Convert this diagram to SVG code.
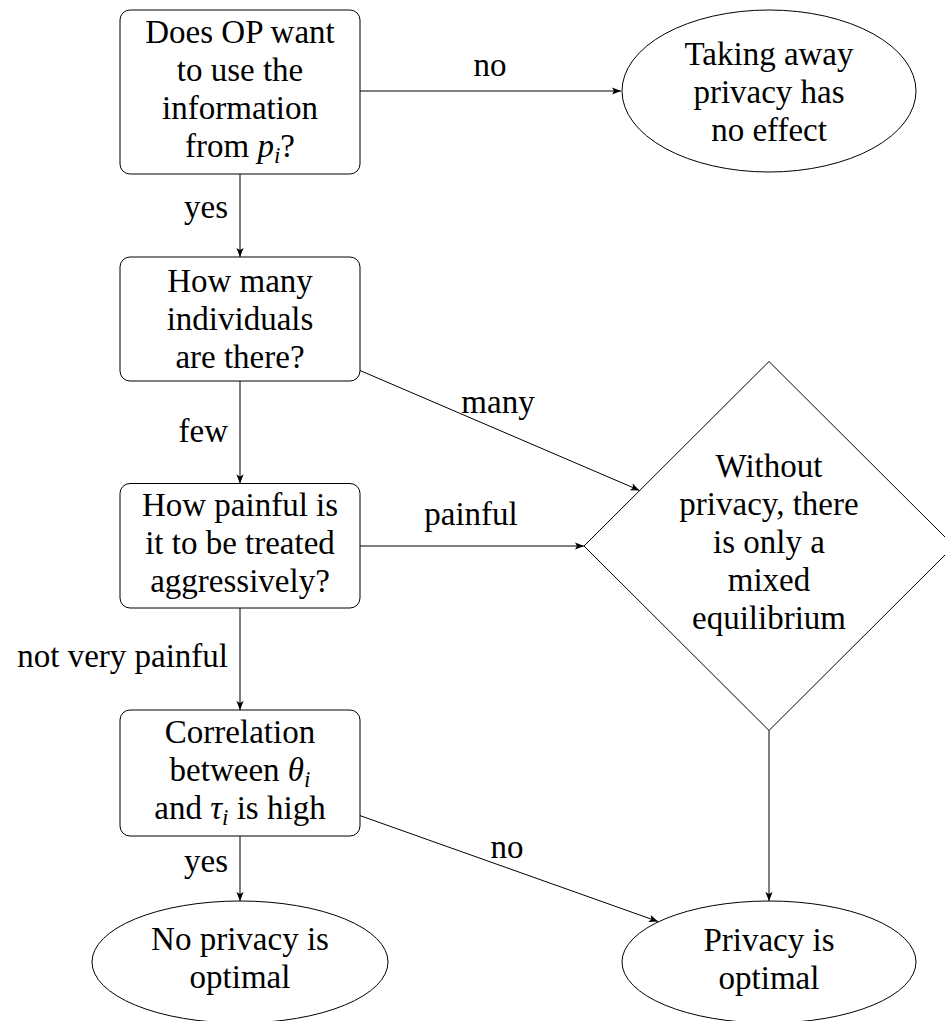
<svg xmlns="http://www.w3.org/2000/svg" width="945" height="1021" viewBox="0 0 945 1021">
<defs>
<marker id="arr" markerUnits="userSpaceOnUse" markerWidth="12" markerHeight="10" viewBox="-10 -5 12 10" refX="0" refY="0" orient="auto">
<path d="M-9,-3.6 L0,0 L-9,3.6 L-7,0 z" fill="#000"/>
</marker>
</defs>
<rect width="945" height="1021" fill="#fff"/>
<g id="connectors" stroke="#000" stroke-width="1" marker-end="url(#arr)">
<line x1="360" y1="91" x2="621" y2="91"/>
<line x1="240" y1="174" x2="240" y2="257"/>
<line x1="360" y1="370.5" x2="639.5" y2="490.4"/>
<line x1="240" y1="381" x2="240" y2="483.5"/>
<line x1="360" y1="546" x2="584" y2="546"/>
<line x1="240" y1="608" x2="240" y2="710"/>
<line x1="360" y1="815.6" x2="658" y2="921.5"/>
<line x1="240" y1="836" x2="240" y2="901"/>
<line x1="769" y1="730.5" x2="769" y2="901"/>
</g>
<g id="labels" fill="#000">
<text font-family="Liberation Serif" font-size="33" text-anchor="middle" x="490" y="76">no</text>
<text font-family="Liberation Serif" font-size="33" text-anchor="end" x="228" y="218">yes</text>
<text font-family="Liberation Serif" font-size="33" text-anchor="middle" x="498" y="413">many</text>
<text font-family="Liberation Serif" font-size="33" text-anchor="end" x="228" y="442">few</text>
<text font-family="Liberation Serif" font-size="33" text-anchor="middle" x="471" y="525">painful</text>
<text font-family="Liberation Serif" font-size="33" text-anchor="end" x="228" y="666.5">not very painful</text>
<text font-family="Liberation Serif" font-size="33" text-anchor="middle" x="507" y="858">no</text>
<text font-family="Liberation Serif" font-size="33" text-anchor="end" x="228" y="872">yes</text>
</g>
<g id="q1">
<rect x="120" y="10" width="240" height="164" rx="10" fill="#fff" stroke="#000" stroke-width="1"/>
<text font-family="Liberation Serif" font-size="33" text-anchor="middle" x="240" y="43">Does OP want</text>
<text font-family="Liberation Serif" font-size="33" text-anchor="middle" x="240" y="81">to use the</text>
<text font-family="Liberation Serif" font-size="33" text-anchor="middle" x="240" y="119">information</text>
<text font-family="Liberation Serif" font-size="33" text-anchor="middle" x="240" y="157">from <tspan font-style="italic">p</tspan><tspan font-style="italic" font-size="23" dy="6">i</tspan><tspan dy="-6">?</tspan></text>
</g>
<g id="noeffect">
<ellipse cx="769" cy="91" rx="147" ry="81" fill="#fff" stroke="#000" stroke-width="1"/>
<text font-family="Liberation Serif" font-size="33" text-anchor="middle" x="769" y="65">Taking away</text>
<text font-family="Liberation Serif" font-size="33" text-anchor="middle" x="769" y="103">privacy has</text>
<text font-family="Liberation Serif" font-size="33" text-anchor="middle" x="769" y="141">no effect</text>
</g>
<g id="q2">
<rect x="120" y="257" width="240" height="124" rx="10" fill="#fff" stroke="#000" stroke-width="1"/>
<text font-family="Liberation Serif" font-size="33" text-anchor="middle" x="240" y="292">How many</text>
<text font-family="Liberation Serif" font-size="33" text-anchor="middle" x="240" y="330">individuals</text>
<text font-family="Liberation Serif" font-size="33" text-anchor="middle" x="240" y="368">are there?</text>
</g>
<g id="q3">
<rect x="120" y="483.5" width="240" height="124.5" rx="10" fill="#fff" stroke="#000" stroke-width="1"/>
<text font-family="Liberation Serif" font-size="33" text-anchor="middle" x="240" y="516">How painful is</text>
<text font-family="Liberation Serif" font-size="33" text-anchor="middle" x="240" y="554">it to be treated</text>
<text font-family="Liberation Serif" font-size="33" text-anchor="middle" x="240" y="592">aggressively?</text>
</g>
<g id="mixed">
<polygon points="769,361.5 954,546 769,730.5 584,546" fill="#fff" stroke="#000" stroke-width="1"/>
<text font-family="Liberation Serif" font-size="33" text-anchor="middle" x="769" y="477">Without</text>
<text font-family="Liberation Serif" font-size="33" text-anchor="middle" x="769" y="515">privacy, there</text>
<text font-family="Liberation Serif" font-size="33" text-anchor="middle" x="769" y="553">is only a</text>
<text font-family="Liberation Serif" font-size="33" text-anchor="middle" x="769" y="591">mixed</text>
<text font-family="Liberation Serif" font-size="33" text-anchor="middle" x="769" y="629">equilibrium</text>
</g>
<g id="q4">
<rect x="120" y="710" width="240" height="126" rx="10" fill="#fff" stroke="#000" stroke-width="1"/>
<text font-family="Liberation Serif" font-size="33" text-anchor="middle" x="240" y="743">Correlation</text>
<text font-family="Liberation Serif" font-size="33" text-anchor="middle" x="240" y="781">between <tspan font-style="italic">θ</tspan><tspan font-style="italic" font-size="23" dy="6">i</tspan></text>
<text font-family="Liberation Serif" font-size="33" text-anchor="middle" x="240" y="819">and <tspan font-style="italic">τ</tspan><tspan font-style="italic" font-size="23" dy="6">i</tspan><tspan dy="-6"> is high</tspan></text>
</g>
<g id="noprivacy">
<ellipse cx="240" cy="962" rx="148" ry="61" fill="#fff" stroke="#000" stroke-width="1"/>
<text font-family="Liberation Serif" font-size="33" text-anchor="middle" x="240" y="950">No privacy is</text>
<text font-family="Liberation Serif" font-size="33" text-anchor="middle" x="240" y="988">optimal</text>
</g>
<g id="privacy">
<ellipse cx="769" cy="962" rx="147" ry="61" fill="#fff" stroke="#000" stroke-width="1"/>
<text font-family="Liberation Serif" font-size="33" text-anchor="middle" x="769" y="951">Privacy is</text>
<text font-family="Liberation Serif" font-size="33" text-anchor="middle" x="769" y="989">optimal</text>
</g>
</svg>
